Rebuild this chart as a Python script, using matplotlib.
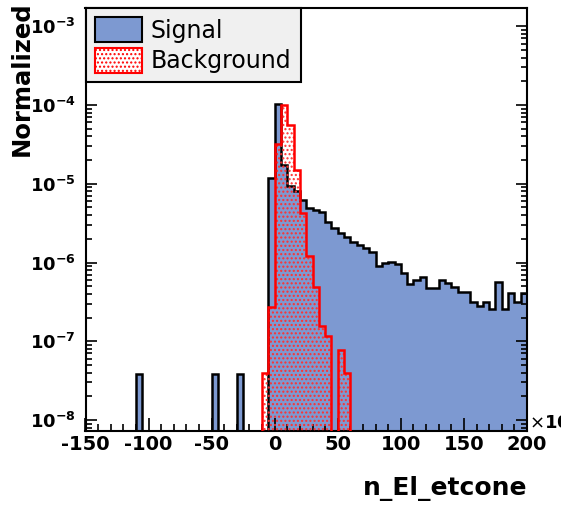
import numpy as np
import matplotlib
matplotlib.use("Agg")
import matplotlib.pyplot as plt
from matplotlib.patches import Patch
from matplotlib.ticker import FixedLocator, LogLocator, NullFormatter, FuncFormatter

# ---------------- data ----------------
bin_edges = np.arange(-150, 205, 5)  # 70 bins of width 5 (x10^3)

signal = [
    0, 0, 0, 0, 0, 0, 0, 0,            # -150 .. -115
    3.85e-8,                           # -110
    0, 0, 0, 0, 0, 0, 0, 0, 0, 0, 0,   # -105 .. -55
    3.85e-8,                           # -50
    0, 0, 0,                           # -45 .. -35
    3.85e-8,                           # -30
    0, 0, 0, 0,                        # -25 .. -10
    1.18e-5,                           # -5
    1.03e-4, 1.73e-5, 9.3e-6, 8.1e-6, 6.3e-6, 4.9e-6, 4.6e-6, 4.4e-6,   # 0 .. 35
    3.3e-6, 2.75e-6, 2.37e-6, 2.1e-6, 1.82e-6, 1.67e-6, 1.53e-6, 1.36e-6,  # 40 .. 75
    9.0e-7, 9.9e-7, 1.02e-6, 9.6e-7, 7.4e-7, 5.4e-7, 6.0e-7, 6.6e-7,   # 80 .. 115
    4.7e-7, 4.7e-7, 6.0e-7, 5.5e-7, 4.9e-7, 4.2e-7, 4.2e-7, 3.16e-7,   # 120 .. 155
    2.8e-7, 3.16e-7, 2.55e-7, 5.7e-7, 2.55e-7, 4.06e-7, 3.16e-7, 4.06e-7,  # 160 .. 195
]

background = (
    [0] * 28 +                          # -150 .. -15
    [3.9e-8, 2.73e-7,                   # -10, -5
     3.2e-5, 0.99e-4, 5.6e-5, 1.5e-5, 4.2e-6, 1.2e-6, 4.9e-7,  # 0 .. 30
     1.56e-7, 1.17e-7, 0, 7.8e-8, 3.9e-8] +                    # 35 .. 55
    [0] * 28                            # 60 .. 195
)

series_labels = ["Signal", "Background"]
x_label = "n_El_etcone"
y_label = "Normalized"
x_ticks = [-150, -100, -50, 0, 50, 100, 150, 200]

# ---------------- figure ----------------
plt.rcParams["axes.unicode_minus"] = False
plt.rcParams["hatch.linewidth"] = 1.0

W, H = 561, 507
fig = plt.figure(figsize=(W / 100, H / 100), dpi=100)
L, R, T, B = 85.5, 527, 8, 430.5
ax = fig.add_axes([L / W, 1 - B / H, (R - L) / W, (B - T) / H])

sig = np.asarray(signal, dtype=float)
bkg = np.asarray(background, dtype=float)
floor = 1e-12
sig_p = np.where(sig > 0, sig, floor)
bkg_p = np.where(bkg > 0, bkg, floor)

sig_color = "#7d99d1"
red = "#ff0000"

ax.set_yscale("log")
ax.stairs(sig_p, bin_edges, baseline=floor, fill=True, facecolor=sig_color,
          edgecolor="none", zorder=1)
ax.stairs(sig_p, bin_edges, baseline=floor, fill=False, color="black",
          linewidth=1.8, zorder=2)

ax.stairs(bkg_p, bin_edges, baseline=floor, fill=True, facecolor="none",
          edgecolor="#ff3030", hatch="....", linewidth=0, zorder=3)
ax.stairs(bkg_p, bin_edges, baseline=floor, fill=False, color=red,
          linewidth=1.8, zorder=4)

ax.set_xlim(-150, 200)
ax.set_ylim(10 ** -8.133, 10 ** -2.768)

# ticks
ax.xaxis.set_major_locator(FixedLocator(x_ticks))
ax.xaxis.set_minor_locator(FixedLocator(np.arange(-150, 201, 10)))
ax.yaxis.set_major_locator(LogLocator(base=10, numticks=20))
ax.yaxis.set_minor_locator(LogLocator(base=10, subs=np.arange(2, 10), numticks=20))
ax.yaxis.set_minor_formatter(NullFormatter())
ax.yaxis.set_major_formatter(FuncFormatter(
    lambda v, p: r"$\mathbf{10^{%d}}$" % int(round(np.log10(v)))))

ax.tick_params(axis="x", which="both", direction="in", top=False, bottom=True,
               labelsize=14, pad=3)
ax.tick_params(axis="x", which="major", length=9.5, width=1.2)
ax.tick_params(axis="x", which="minor", length=5, width=1.2)
ax.tick_params(axis="y", which="both", direction="in", left=True, right=True,
               labelsize=13, pad=7)
ax.tick_params(axis="y", which="major", length=7.7, width=1.2)
ax.tick_params(axis="y", which="minor", length=4, width=1.2)
for lab in ax.get_xticklabels():
    lab.set_fontweight("bold")

for sp in ax.spines.values():
    sp.set_linewidth(1.5)

ax.set_xlabel(x_label, fontsize=18, fontweight="bold", loc="right")
ax.xaxis.set_label_coords(1.0, -0.108)
ax.set_ylabel(y_label, fontsize=17.5, fontweight="bold", loc="top")
ax.yaxis.set_label_coords(-0.118, 1.016)

# exponent label at the right of x axis
fig.text(529 / W, 1 - 423 / H, r"$\times$10$^{3}$", fontsize=13,
         fontweight="bold", ha="left", va="center")

handles = [
    Patch(facecolor=sig_color, edgecolor="black", linewidth=1.5),
    Patch(facecolor="white", edgecolor=red, hatch="....", linewidth=1.5),
]
leg = ax.legend(handles, series_labels, loc="upper left",
                bbox_to_anchor=(0.0, 1.0), borderaxespad=0,
                fontsize=17, handlelength=2.0, handleheight=1.25,
                handletextpad=0.35, labelspacing=0.2, borderpad=0.4,
                fancybox=False, framealpha=1, facecolor="#f0f0f0",
                edgecolor="black")
leg.get_frame().set_linewidth(1.5)
leg.set_zorder(10)

fig.savefig("out.png", dpi=100)
